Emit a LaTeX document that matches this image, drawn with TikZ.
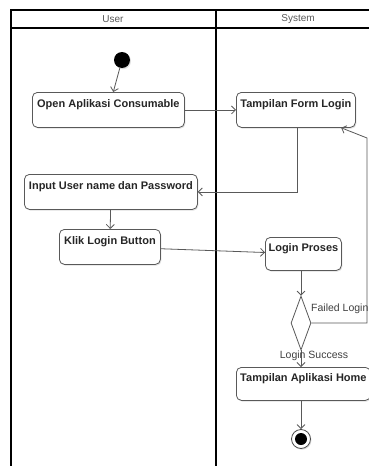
\documentclass[tikz,border=0pt]{standalone}
\usepackage{fontspec}
\setmainfont{Liberation Sans}
\usetikzlibrary{arrows.meta,shapes.geometric,shadows}
\begin{document}
\begin{tikzpicture}[x=1pt,y=-1pt,
  act/.style={draw=black!65, line width=0.8pt, rounded corners=5pt, fill=white,
    anchor=north west, inner xsep=2pt, inner ysep=0pt, text height=15pt, text depth=20pt,
    font=\bfseries\fontsize{11}{13}\selectfont, text=black!85,
    drop shadow={shadow xshift=1pt, shadow yshift=-1.2pt, opacity=0.25}},
  actlow/.style={act, text height=14pt, text depth=19pt},
  flow/.style={draw=black!65, line width=0.8pt, -{Straight Barb[length=4pt,width=8pt]}},
  lane/.style={draw=black, line width=1.3pt},
  head/.style={font=\fontsize{10}{12}\selectfont, text=black!65},
  lbl/.style={font=\fontsize{10.5}{12}\selectfont, text=black!75, inner sep=0pt}]
\useasboundingbox (0,0) rectangle (369,466);
\fill[white] (0,0) rectangle (369,466);
\clip (0,0) rectangle (369,466);
% swimlanes
\draw[lane] (11,472) -- (11,10) -- (385,10);
\draw[lane] (11,28) -- (385,28);
\draw[lane] (216,10) -- (216,472);
\node[head] (huser) at (113,19) {User};
\node[head] (hsys) at (298,19) {System};
% nodes
\node[circle, fill=black, minimum size=16pt, inner sep=0pt,
  drop shadow={shadow xshift=1pt, shadow yshift=-1.2pt, opacity=0.25}] (start) at (122,60) {};
\node[act, minimum width=152pt] (open) at (32,92) {Open Aplikasi Consumable};
\node[act, minimum width=119pt] (form) at (236,92) {Tampilan Form Login};
\node[act, minimum width=173pt] (input) at (24,174) {Input User name dan Password};
\node[act, minimum width=101pt] (klik) at (59,229) {Klik Login Button};
\node[actlow, minimum width=76pt] (proses) at (265,237) {Login Proses};
\node[diamond, draw=black!65, line width=0.8pt, fill=white, minimum width=20pt,
  minimum height=54pt, inner sep=0pt] (dec) at (301,323) {};
\node[actlow, minimum width=134pt] (home) at (236,367) {Tampilan Aplikasi Home};
\node[circle, draw=black!70, line width=0.8pt, fill=white, minimum size=19pt, inner sep=0pt,
  drop shadow={shadow xshift=1pt, shadow yshift=-1.2pt, opacity=0.25}] (end) at (301,439) {};
\node[circle, fill=black, minimum size=12pt, inner sep=0pt] (endin) at (end) {};
% connectors
\draw[flow] (start) -- (open);
\draw[flow] (open) -- (form);
\draw[flow] ([xshift=1.5pt]form.south) |- (input.east);
\draw[flow] (input) -- (klik);
\draw[flow] (klik) -- (proses);
\draw[flow] (proses.south -| dec) -- (dec.north);
\coordinate (f1) at (367,323);
\coordinate (f2) at (367,138);
\draw[flow] (dec.east) -- (f1) -- (f2) -- (form);
\draw[flow] (dec.south) -- (dec.south |- home.north);
\draw[flow] (home.south -| end) -- (end);
% labels
\node[lbl, anchor=west] (lfail) at (311,309) {Failed Login};
\node[lbl] (lsucc) at (314,356) {Login Success};
\end{tikzpicture}
\end{document}
